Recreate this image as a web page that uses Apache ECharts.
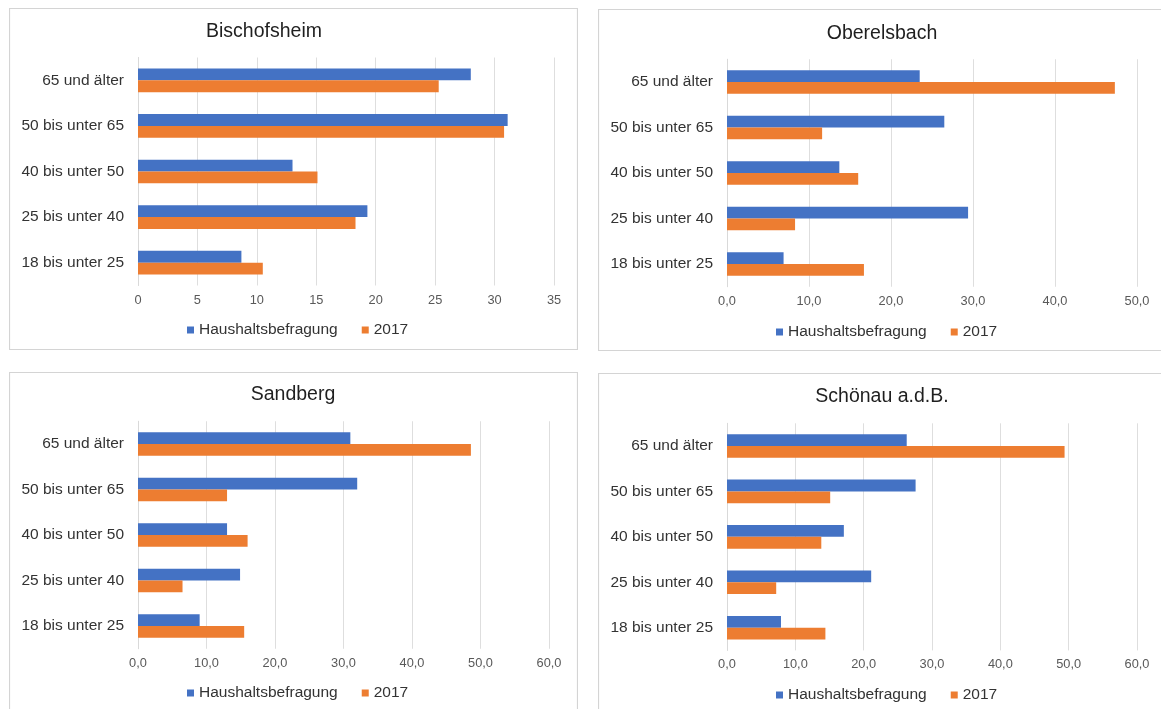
<!DOCTYPE html>
<html lang="de">
<head>
<meta charset="utf-8">
<title>Altersstruktur – Haushaltsbefragung und 2017</title>
<script src="https://cdn.jsdelivr.net/npm/echarts@6/dist/echarts.min.js"></script>
<style>
  html, body { margin: 0; padding: 0; background: #ffffff; }
  body { width: 1161px; height: 709px; position: relative; overflow: hidden; }
  .panel { position: absolute; }
</style>
</head>
<body>
<div id="p1" class="panel" style="left:9px;top:8px;width:569px;height:342px;"></div>
<div id="p2" class="panel" style="left:598px;top:9px;width:569px;height:342px;"></div>
<div id="p3" class="panel" style="left:9px;top:372px;width:569px;height:345px;"></div>
<div id="p4" class="panel" style="left:598px;top:373px;width:569px;height:345px;"></div>
<script>
// Age groups, bottom to top on the category axis
const categories = ['18 bis unter 25', '25 bis unter 40', '40 bis unter 50', '50 bis unter 65', '65 und älter'];
const seriesNames = ['Haushaltsbefragung', '2017'];

// Shares in percent per age group
const bischofsheimSurvey = [8.7, 19.3, 13.0, 31.1, 28.0];
const bischofsheim2017   = [10.5, 18.3, 15.1, 30.8, 25.3];

const oberelsbachSurvey = [6.9, 29.4, 13.7, 26.5, 23.5];
const oberelsbach2017   = [16.7, 8.3, 16.0, 11.6, 47.3];

const sandbergSurvey = [9.0, 14.9, 13.0, 32.0, 31.0];
const sandberg2017   = [15.5, 6.5, 16.0, 13.0, 48.6];

const schoenauSurvey = [7.9, 21.1, 17.1, 27.6, 26.3];
const schoenau2017   = [14.4, 7.2, 13.8, 15.1, 49.4];

const FONT = '"Liberation Sans", Arial, Helvetica, sans-serif';
const COLOR_SURVEY = '#4472C4';
const COLOR_2017 = '#ED7D31';

function decimalComma(v) {
  return v.toFixed(1).replace('.', ',');
}

function buildPanel(id, cfg) {
  const el = document.getElementById(id);
  const chart = echarts.init(el, null, { renderer: 'canvas' });
  const W = el.clientWidth, H = el.clientHeight;
  chart.setOption({
    animation: false,
    textStyle: { fontFamily: FONT },
    graphic: [{
      type: 'rect',
      silent: true,
      shape: { x: 0.5, y: 0.5, width: W - 1, height: H - 1 },
      style: { fill: 'none', stroke: '#d4d4d4', lineWidth: 1.2 }
    }],
    title: {
      text: cfg.title,
      left: cfg.titleX,
      top: cfg.titleTop,
      padding: 0,
      textAlign: 'center',
      textVerticalAlign: 'top',
      textStyle: { fontFamily: FONT, fontSize: 19.5, fontWeight: 'normal', color: '#1f1f1f' }
    },
    legend: {
      data: seriesNames,
      left: cfg.legendX,
      top: cfg.legendTop,
      icon: 'rect',
      itemWidth: 7,
      itemHeight: 7,
      itemGap: 24,
      selectedMode: false,
      textStyle: { fontFamily: FONT, fontSize: 15.5, color: '#333333' }
    },
    grid: {
      left: 129,
      right: cfg.gridRight,
      top: cfg.gridTop,
      bottom: cfg.gridBottom,
      containLabel: false,
      outerBoundsMode: 'none'
    },
    xAxis: {
      type: 'value',
      min: 0,
      max: cfg.max,
      interval: cfg.interval,
      axisLine: { show: false },
      axisTick: { show: false },
      splitLine: { show: true, lineStyle: { color: '#dedede', width: 1 } },
      axisLabel: {
        margin: 8,
        fontFamily: FONT,
        fontSize: 12.8,
        color: '#595959',
        formatter: cfg.comma ? decimalComma : (v) => String(v)
      }
    },
    yAxis: {
      type: 'category',
      data: categories,
      axisLine: { show: true, lineStyle: { color: '#d9d9d9', width: 1 } },
      axisTick: { show: false },
      axisLabel: { margin: 14, fontFamily: FONT, fontSize: 15.5, color: '#333333' }
    },
    series: [
      {
        name: seriesNames[0], type: 'bar', data: cfg.survey,
        itemStyle: { color: COLOR_SURVEY },
        barGap: '0%', barCategoryGap: '48%', silent: true
      },
      {
        name: seriesNames[1], type: 'bar', data: cfg.current,
        itemStyle: { color: COLOR_2017 },
        barGap: '0%', barCategoryGap: '48%', silent: true
      }
    ]
  });
}

buildPanel('p1', {
  title: 'Bischofsheim', titleX: 255, titleTop: 14,
  survey: bischofsheimSurvey, current: bischofsheim2017,
  max: 35, interval: 5, comma: false,
  gridTop: 49.5, gridBottom: 64.5, gridRight: 24, legendTop: 309, legendX: 173
});
buildPanel('p2', {
  title: 'Oberelsbach', titleX: 284, titleTop: 15,
  survey: oberelsbachSurvey, current: oberelsbach2017,
  max: 50, interval: 10, comma: true,
  gridTop: 50.25, gridBottom: 64.25, gridRight: 30, legendTop: 310, legendX: 173
});
buildPanel('p3', {
  title: 'Sandberg', titleX: 284, titleTop: 13,
  survey: sandbergSurvey, current: sandberg2017,
  max: 60, interval: 10, comma: true,
  gridTop: 49.25, gridBottom: 68.25, gridRight: 29, legendTop: 308, legendX: 173
});
buildPanel('p4', {
  title: 'Schönau a.d.B.', titleX: 284, titleTop: 14,
  survey: schoenauSurvey, current: schoenau2017,
  max: 60, interval: 10, comma: true,
  gridTop: 50.3, gridBottom: 67.6, gridRight: 30, legendTop: 309, legendX: 173
});
</script>
</body>
</html>
